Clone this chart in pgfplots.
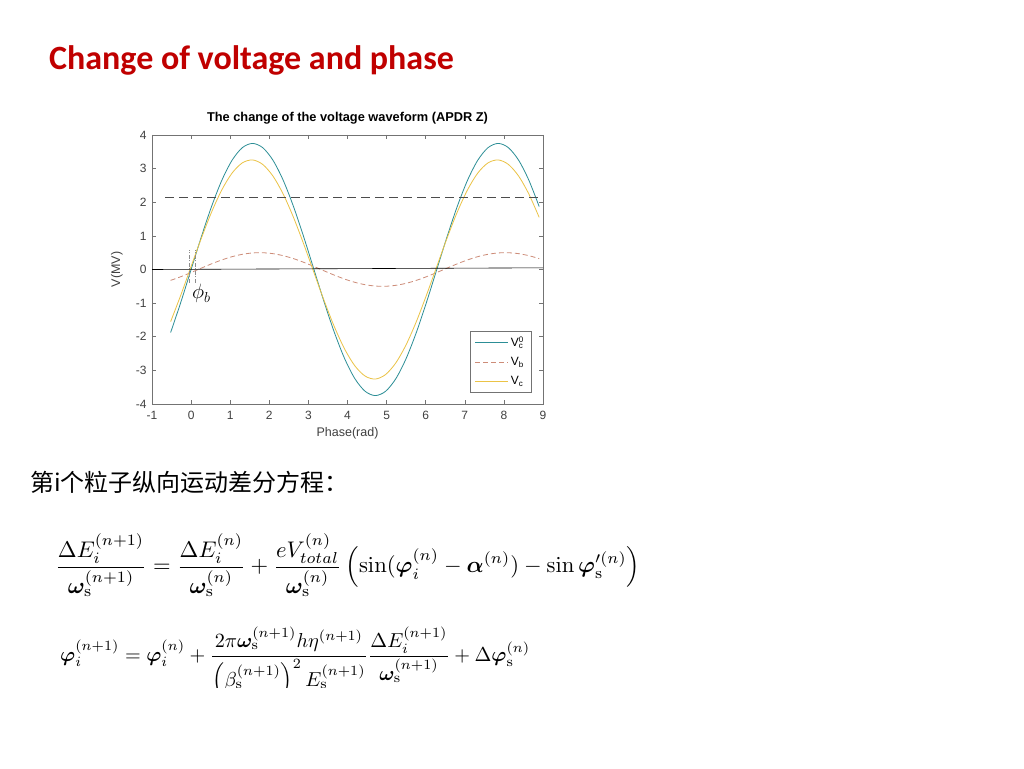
\documentclass[border=0pt]{standalone}
\usepackage{amsmath,bm}
\usepackage{graphicx}
\usepackage[no-math]{fontspec}
\setmainfont{Liberation Sans}
\newfontfamily\titlefont{Carlito}
\newfontfamily\cjk{Noto Sans CJK SC}
\usepackage{pgfplots}
\pgfplotsset{compat=1.18}
\usepackage{pgfplotstable}

\definecolor{titlered}{RGB}{192,0,0}
\definecolor{vczero}{RGB}{44,142,150}
\definecolor{vbcol}{RGB}{205,140,120}
\definecolor{vccol}{RGB}{235,195,70}

% phase, V_c^0, V_b, V_c  (MV)
\pgfplotstableread{
x vcz vb vc
-0.5236 -1.8750 -0.3235 -1.5515
-0.2618 -0.9705 -0.2138 -0.7567
0.0000 0.0000 -0.0895 0.0895
0.2618 0.9705 0.0408 0.9297
0.5236 1.8750 0.1685 1.7066
0.7854 2.6517 0.2845 2.3671
1.0472 3.2476 0.3812 2.8663
1.3090 3.6222 0.4519 3.1702
1.5708 3.7500 0.4919 3.2581
1.8326 3.6222 0.4983 3.1238
2.0944 3.2476 0.4708 2.7767
2.3562 2.6517 0.4111 2.2405
2.6180 1.8750 0.3235 1.5515
2.8798 0.9705 0.2138 0.7567
3.1416 0.0000 0.0895 -0.0895
3.4034 -0.9705 -0.0408 -0.9297
3.6652 -1.8750 -0.1685 -1.7066
3.9270 -2.6517 -0.2845 -2.3671
4.1888 -3.2476 -0.3812 -2.8663
4.4506 -3.6222 -0.4519 -3.1702
4.7124 -3.7500 -0.4919 -3.2581
4.9742 -3.6222 -0.4983 -3.1238
5.2360 -3.2476 -0.4708 -2.7767
5.4978 -2.6517 -0.4111 -2.2405
5.7596 -1.8750 -0.3235 -1.5515
6.0214 -0.9705 -0.2138 -0.7567
6.2832 0.0000 -0.0895 0.0895
6.5450 0.9705 0.0408 0.9297
6.8068 1.8750 0.1685 1.7066
7.0686 2.6517 0.2845 2.3671
7.3304 3.2476 0.3812 2.8663
7.5922 3.6222 0.4519 3.1702
7.8540 3.7500 0.4919 3.2581
8.1158 3.6222 0.4983 3.1238
8.3776 3.2476 0.4708 2.7767
8.6394 2.6517 0.4111 2.2405
8.9012 1.8750 0.3235 1.5515
}\wave

\begin{document}
\begin{tikzpicture}[x=1pt,y=1pt]
\fill[white] (0,0) rectangle (1024,768);

\node[anchor=base west, inner sep=0, text=titlered,
      font=\titlefont\bfseries\fontsize{34}{34}\selectfont] at (49,698)
      {Change of voltage and phase};

\begin{axis}[
    at={(152pt,364pt)}, anchor=south west,
    scale only axis, width=391pt, height=269pt,
    xmin=-1, xmax=9, ymin=-4, ymax=4,
    xtick={-1,0,...,9}, ytick={-4,-3,...,4},
    tick align=inside, tick pos=both, major tick length=4pt,
    axis line style={black!55}, tick style={black!55, line width=0.5pt},
    tick label style={font=\fontsize{12}{12}\selectfont, text=black!75},
    xticklabel style={yshift=-4pt}, yticklabel style={xshift=-2pt},
    /pgf/number format/assume math mode=true,
    title={The change of the voltage waveform (APDR Z)},
    title style={font=\bfseries\fontsize{12.8}{13}\selectfont,
                 at={(axis description cs:0.5,1)}, anchor=center, yshift=11pt},
    xlabel={Phase(rad)}, ylabel={V(MV)},
    label style={font=\fontsize{12.5}{13}\selectfont, text=black!75},
    xlabel style={at={(axis description cs:0.5,-0.108)}, anchor=center},
    ylabel style={at={(axis description cs:-0.09,0.5)}, anchor=center},
    legend style={at={(axis description cs:1,0)}, anchor=south east,
                  xshift=-12pt, yshift=12pt, draw=black!55,
                  font=\fontsize{12}{12}\selectfont, row sep=5pt,
                  inner xsep=5pt, inner ysep=4pt},
    legend cell align=left,
    legend image code/.code={\draw[#1] (0pt,0pt) -- (33pt,0pt);},
]

\addplot[color=vczero, line width=0.8pt, smooth] table[x=x, y=vcz] {\wave};
\addlegendentry{V\rlap{\textsuperscript{0}}\textsubscript{c}}

\addplot[color=vbcol, line width=0.8pt, dash pattern=on 5pt off 3pt, smooth]
    table[x=x, y=vb] {\wave};
\addlegendentry{V\textsubscript{b}}

\addplot[color=vccol, line width=0.8pt, smooth] table[x=x, y=vc] {\wave};
\addlegendentry{V\textsubscript{c}}

\addplot[black!70, line width=0.8pt, dash pattern=on 9pt off 5pt, forget plot]
    coordinates {(-0.66,2.15) (9,2.15)};
\addplot[black, line width=0.6pt, forget plot]
    coordinates {(-1,0) (9,0.05)};
\addplot[black!45, line width=0.6pt, dash pattern=on 4pt off 1.5pt on 1pt off 1.5pt, forget plot]
    coordinates {(-0.04,-0.4) (-0.04,0.58)};
\addplot[black!45, line width=0.6pt, dash pattern=on 4pt off 1.5pt on 1pt off 1.5pt, forget plot]
    coordinates {(0.12,-0.4) (0.12,0.58)};

\node at (axis cs:0.26,-0.72) {\fontsize{22}{22}\selectfont$\phi_b$};
\end{axis}

\node[anchor=west, inner sep=0, font=\cjk\fontsize{24}{24}\selectfont] at (30,286)
    {第i个粒子纵向运动差分方程：};

\node[anchor=west, inner sep=0] at (55,203) {\resizebox{585pt}{!}{$\displaystyle
    \frac{\Delta E_i^{(n+1)}}{\bm{\omega}_{\mathrm{s}}^{(n+1)}}
    = \frac{\Delta E_i^{(n)}}{\bm{\omega}_{\mathrm{s}}^{(n)}}
    + \frac{eV_{total}^{(n)}}{\bm{\omega}_{\mathrm{s}}^{(n)}}
    \left(\sin(\bm{\varphi}_i^{(n)} - \bm{\alpha}^{(n)}) - \sin\bm{\varphi}'^{(n)}_{\mathrm{s}}\right)$}};

\node[anchor=west, inner sep=0] at (60,105) {\resizebox{470pt}{!}{$\displaystyle
    \bm{\varphi}_i^{(n+1)} = \bm{\varphi}_i^{(n)}
    + \frac{2\pi\bm{\omega}_{\mathrm{s}}^{(n+1)} h\eta^{(n+1)}}
           {\left(\beta_{\mathrm{s}}^{(n+1)}\right)^2 E_{\mathrm{s}}^{(n+1)}}
      \frac{\Delta E_i^{(n+1)}}{\bm{\omega}_{\mathrm{s}}^{(n+1)}}
    + \Delta\bm{\varphi}_{\mathrm{s}}^{(n)}$}};

\fill[white] (0,0) rectangle (1024,80);
\end{tikzpicture}
\end{document}
